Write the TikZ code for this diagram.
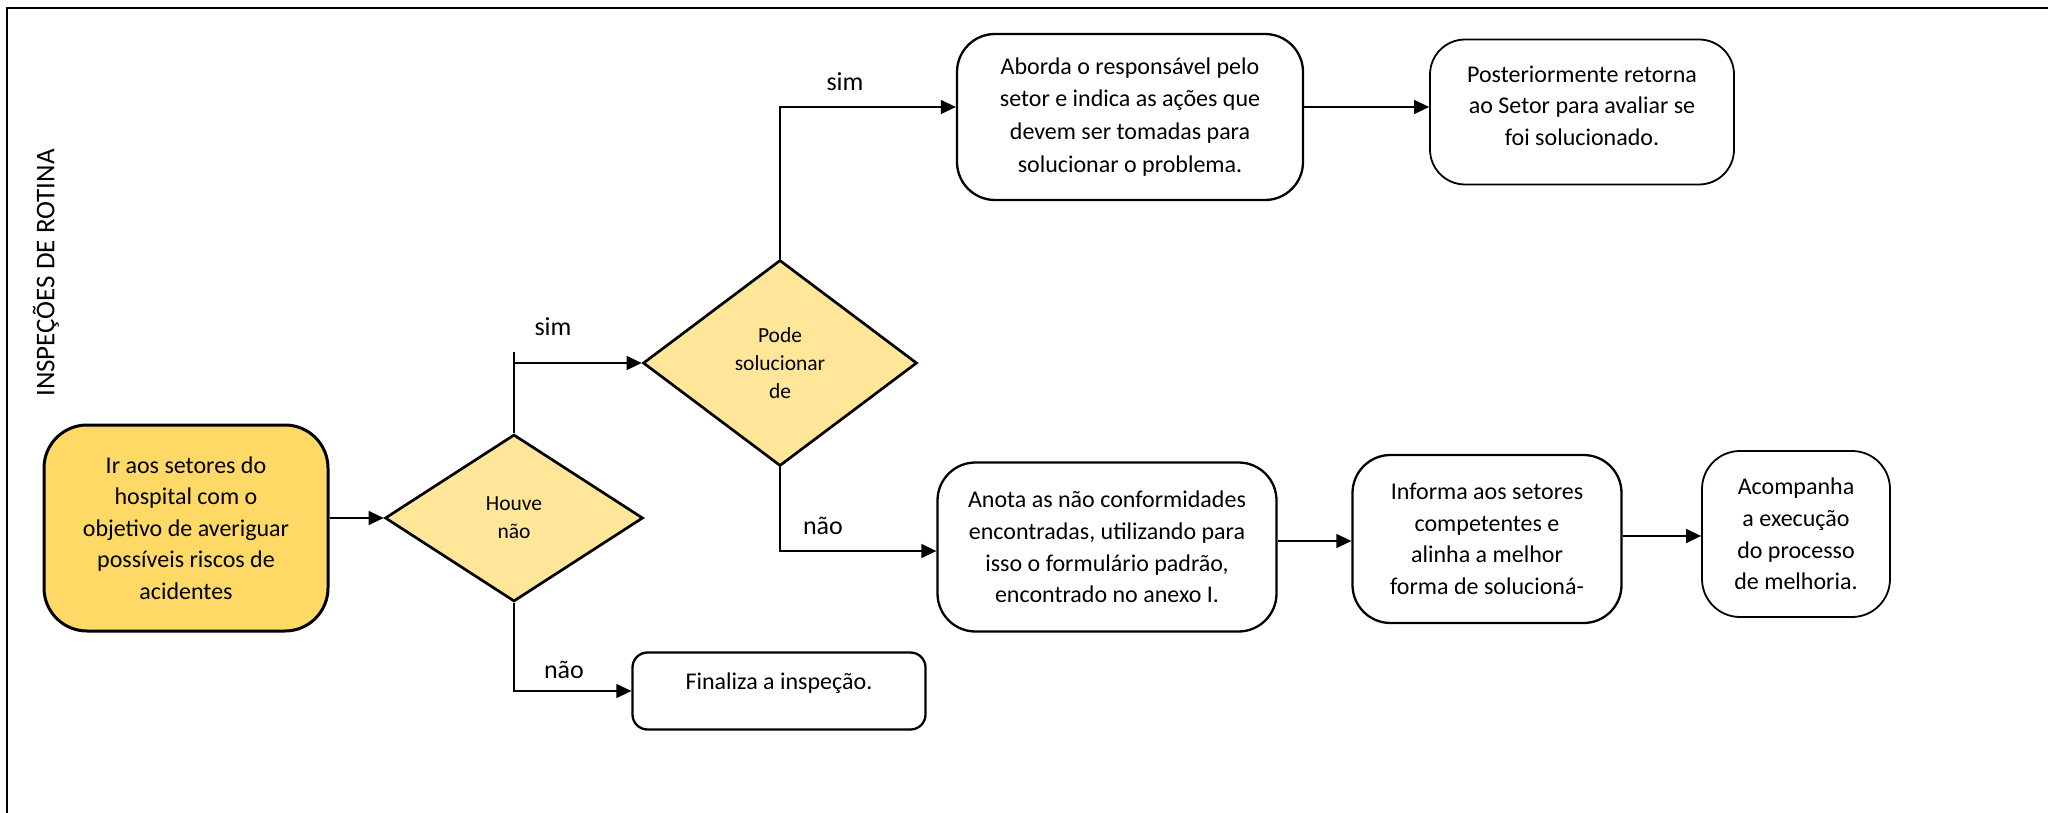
\documentclass[tikz,border=0pt]{standalone}
\usepackage{fontspec}
\setmainfont{Carlito}
\usetikzlibrary{shapes.geometric,arrows.meta}
\definecolor{startfill}{HTML}{FFD966}
\definecolor{decfill}{HTML}{FFE699}

\begin{document}
\begin{tikzpicture}[
    x=1pt, y=-1pt,
    every node/.style={align=center, font=\fontsize{24}{31.6}\selectfont},
    box/.style={draw, line width=2.3pt, rounded corners=38pt, inner sep=0pt},
    decision/.style={diamond, draw, line width=2.7pt, fill=decfill, inner sep=0pt,
      font=\fontsize{21.5}{28}\selectfont},
    answer/.style={font=\fontsize{26}{30}\selectfont},
    flow/.style={line width=1.3pt, -{Triangle[length=15pt,width=14pt]}}
  ]
  \useasboundingbox (0,0) rectangle (2048,813);
  \draw[line width=2.5pt] (7,813) -- (7,8) -- (2048,8);
  \node[rotate=90, font=\fontsize{27}{30}\selectfont] (title) at (46,273) {INSPEÇÕES DE ROTINA};

  % boxes
  \node[box, fill=startfill, line width=3pt, rounded corners=43pt,
    minimum width=284pt, minimum height=206pt] (start) at (186,528)
    {Ir aos setores do\\hospital com o\\objetivo de averiguar\\possíveis riscos de\\acidentes};
  \node[decision, minimum width=258pt, minimum height=167pt] (houve) at (514,518) {Houve\\não};
  \node[decision, minimum width=274pt, minimum height=206pt] (pode) at (780,363) {Pode\\solucionar\\de};
  \node[box, minimum width=346pt, minimum height=166pt, font=\fontsize{24}{32.8}\selectfont] (aborda) at (1130,117)
    {Aborda o responsável pelo\\setor e indica as ações que\\devem ser tomadas para\\solucionar o problema.};
  \node[box, line width=1.8pt, rounded corners=35pt, minimum width=304pt, minimum height=145pt,
    text depth=13pt] (posterior) at (1582,112)
    {Posteriormente retorna\\ao Setor para avaliar se\\foi solucionado.};
  \node[box, minimum width=339pt, minimum height=169pt] (anota) at (1107,547)
    {Anota as não conformidades\\encontradas, utilizando para\\isso o formulário padrão,\\encontrado no anexo I.};
  \node[box, minimum width=269pt, minimum height=168pt] (informa) at (1487,539)
    {Informa aos setores\\competentes e\\alinha a melhor\\forma de solucioná-};
  \node[box, line width=1.8pt, minimum width=188pt, minimum height=166pt] (acomp) at (1796,534)
    {Acompanha\\a execução\\do processo\\de melhoria.};
  \node[box, rounded corners=15pt, minimum width=293pt, minimum height=77pt,
    text depth=20pt] (finaliza) at (779,691) {Finaliza a inspeção.};

  % answers
  \node[answer] (sim1) at (553,327) {sim};
  \node[answer] (sim2) at (845,82) {sim};
  \node[answer] (nao1) at (564,670) {não};
  \node[answer] (nao2) at (823,526) {não};

  % connectors
  \draw[flow] (start.east |- houve.west) -- (houve.west);
  \draw[line width=1.3pt] (houve.north) -- ([yshift=11pt]houve.north |- pode.west);
  \draw[flow] (houve.north |- pode.west) -- (pode.west);
  \draw[flow] (pode.north) |- ([yshift=10pt]aborda.west);
  \draw[flow] ([yshift=10pt]aborda.east) -- ([yshift=10pt]aborda.east -| posterior.west);
  \draw[flow] (pode.south) |- ([yshift=-4pt]anota.west);
  \draw[flow] ([yshift=6pt]anota.east) -- ([yshift=6pt]anota.east -| informa.west);
  \draw[flow] ([yshift=3pt]informa.east) -- ([yshift=3pt]informa.east -| acomp.west);
  \draw[flow] (houve.south) |- (finaliza.west);
\end{tikzpicture}
\end{document}
